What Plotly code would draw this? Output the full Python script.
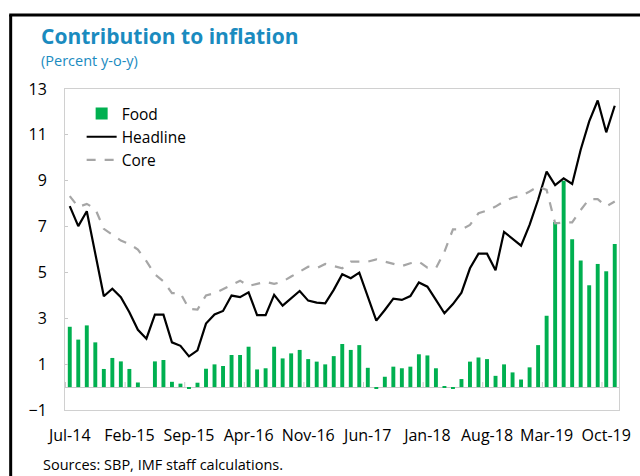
import plotly.graph_objects as go

month_names = ["Jan", "Feb", "Mar", "Apr", "May", "Jun",
               "Jul", "Aug", "Sep", "Oct", "Nov", "Dec"]

food = [2.63, 2.07, 2.69, 1.95, 0.79, 1.27, 1.12, 0.79, 0.20, 0.0,
        1.12, 1.18, 0.23, 0.15, -0.05, 0.19, 0.80, 0.99, 0.92, 1.40,
        1.40, 1.76, 0.77, 0.82, 1.76, 1.25, 1.47, 1.62, 1.22, 1.11,
        0.99, 1.35, 1.88, 1.62, 1.83, 0.84, -0.06, 0.45, 0.89, 0.82,
        0.89, 1.43, 1.38, 0.82, 0.03, -0.07, 0.35, 1.11, 1.29, 1.22,
        0.49, 0.99, 0.64, 0.33, 0.86, 1.83, 3.11, 7.20, 9.00, 6.45,
        5.52, 4.44, 5.37, 5.05, 6.24]

headline = [7.89, 7.02, 7.67, 5.82, 3.96, 4.29, 3.92, 3.26, 2.50, 2.11,
            3.16, 3.16, 1.95, 1.80, 1.34, 1.60, 2.77, 3.17, 3.32, 3.99,
            3.92, 4.13, 3.14, 3.14, 4.02, 3.55, 3.87, 4.19, 3.77, 3.68,
            3.65, 4.24, 4.92, 4.75, 4.99, 3.94, 2.90, 3.36, 3.86, 3.80,
            3.97, 4.56, 4.38, 3.80, 3.22, 3.62, 4.12, 5.18, 5.82, 5.82,
            5.09, 6.77, 6.48, 6.17, 7.07, 8.17, 9.40, 8.81, 9.10, 8.86,
            10.35, 11.59, 12.50, 11.11, 12.27]

core = [8.33, 7.85, 7.99, 7.77, 6.90, 6.65, 6.39, 6.24, 6.00, 5.49,
        4.91, 4.61, 4.10, 4.10, 3.41, 3.38, 4.00, 4.09, 4.28, 4.45,
        4.64, 4.41, 4.50, 4.59, 4.50, 4.60, 4.82, 5.04, 5.25, 5.18,
        5.37, 5.28, 5.18, 5.47, 5.47, 5.47, 5.57, 5.47, 5.37, 5.28,
        5.40, 5.47, 5.21, 5.18, 5.90, 6.88, 6.88, 7.07, 7.58, 7.70,
        7.87, 8.10, 8.26, 8.34, 8.53, 8.75, 8.60, 7.14, 7.18, 7.18,
        7.72, 8.20, 8.20, 7.88, 8.09]

# monthly categories Jul-14 .. Nov-19
categories = []
for i in range(len(food)):
    k = 6 + i  # Jul 2014 is month index 6 of 2014
    categories.append(f"{month_names[k % 12]}-{14 + k // 12:02d}")
tick_labels = categories[::7]
y_ticks = [-1, 1, 3, 5, 7, 9, 11, 13]

FONT = "Open Sans"
TITLE_COLOR = "#1A8BBF"

fig = go.Figure()
fig.add_trace(go.Bar(x=categories, y=food, name="Food",
                     marker=dict(color="#00B050", line=dict(width=0))))
fig.add_trace(go.Scatter(x=categories, y=headline, name="Headline", mode="lines",
                         line=dict(color="#000000", width=2.2)))
fig.add_trace(go.Scatter(x=categories, y=core, name="Core", mode="lines",
                         line=dict(color="#A6A6A6", width=2.2, dash="dash")))

# plot area in pixels: left 65, right 631, top 89, bottom 410 (height 321)
PH, PW = 321.0, 566.0
def py(px):
    return (410 - px) / PH
def pxp(px):
    return (px - 65) / PW

shapes = []
for lab in tick_labels:
    idx = categories.index(lab)
    shapes.append(dict(type="line", xref="x", yref="y", x0=idx - 0.5, x1=idx - 0.5,
                       y0=0, y1=0.22, line=dict(color="#C8C8C8", width=1), layer="below"))
# outer frame (black border of the panel)
shapes.append(dict(type="line", xref="paper", yref="paper", x0=pxp(8), x1=pxp(660),
                   y0=py(15), y1=py(15), line=dict(color="#000000", width=3)))
shapes.append(dict(type="line", xref="paper", yref="paper", x0=pxp(9.5), x1=pxp(9.5),
                   y0=py(490), y1=py(15), line=dict(color="#000000", width=3)))

fig.update_layout(
    width=640, height=476,
    margin=dict(l=65, r=9, t=89, b=66),
    paper_bgcolor="white", plot_bgcolor="white",
    font=dict(family=FONT, size=16, color="#000000"),
    bargap=0.54,
    showlegend=True,
    legend=dict(x=pxp(82), y=py(97), xanchor="left", yanchor="top",
                bgcolor="rgba(0,0,0,0)", font=dict(size=15.5, family=FONT),
                tracegroupgap=0, itemwidth=30),
    shapes=shapes,
    annotations=[
        dict(text="<b>Contribution to inflation</b>", xref="paper", yref="paper",
             x=pxp(38), y=py(36), xanchor="left", yanchor="middle", showarrow=False,
             font=dict(size=21, color=TITLE_COLOR, family=FONT)),
        dict(text="(Percent y-o-y)", xref="paper", yref="paper",
             x=pxp(38), y=py(60), xanchor="left", yanchor="middle", showarrow=False,
             font=dict(size=14.5, color=TITLE_COLOR, family=FONT)),
        dict(text="Sources: SBP, IMF staff calculations.", xref="paper", yref="paper",
             x=pxp(40), y=py(464), xanchor="left", yanchor="middle", showarrow=False,
             font=dict(size=14.5, color="#000000", family=FONT)),
    ],
)
fig.update_xaxes(type="category", categoryorder="array", categoryarray=categories,
                 tickvals=tick_labels, ticktext=tick_labels, tickangle=0,
                 showline=True, linecolor="#D0D0D0", mirror=True, ticks="",
                 showgrid=False, zeroline=False, tickfont=dict(size=16),
                 ticklabelstandoff=11)
fig.update_yaxes(range=[-1, 13], tickvals=y_ticks, showgrid=False,
                 showline=True, linecolor="#D0D0D0", mirror=True,
                 ticks="inside", ticklen=3, tickcolor="#C8C8C8",
                 zeroline=True, zerolinecolor="#C8C8C8", zerolinewidth=1,
                 tickfont=dict(size=16), ticklabelstandoff=14)

fig.write_html("out.html", config={"displayModeBar": False},
               post_script="document.body.style.margin='0';document.body.style.overflow='hidden';")
